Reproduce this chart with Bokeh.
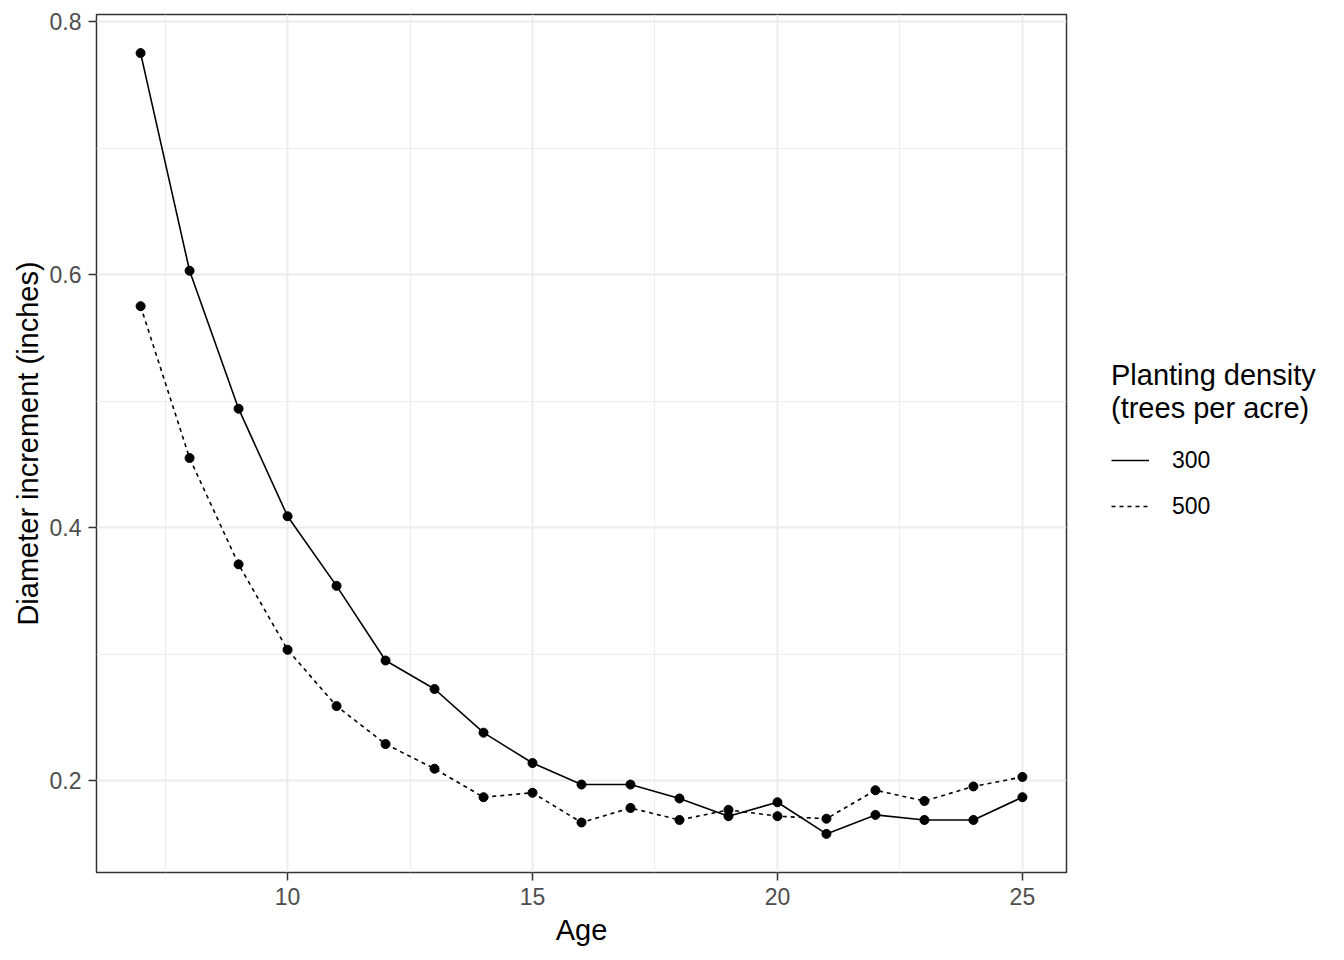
from bokeh.plotting import figure
from bokeh.models import (Range1d, FixedTicker, Legend, LegendItem,
                          ColumnDataSource)
from bokeh.layouts import row
from bokeh.embed import file_html
from bokeh.resources import INLINE

# ---- data ----
age = list(range(7, 26))
inc_300 = [0.775, 0.603, 0.494, 0.409, 0.354, 0.295, 0.2725, 0.238, 0.214,
           0.197, 0.197, 0.186, 0.172, 0.183, 0.158, 0.173, 0.169, 0.169, 0.187]
inc_500 = [0.575, 0.455, 0.371, 0.3035, 0.259, 0.229, 0.2095, 0.187, 0.1905,
           0.167, 0.1785, 0.169, 0.177, 0.172, 0.170, 0.1925, 0.184, 0.1955, 0.203]
density_labels = ["300", "500"]
legend_title = "Planting density\n(trees per acre)"
x_title = "Age"
y_title = "Diameter increment (inches)"
x_major = [10, 15, 20, 25]
x_minor = [7.5, 12.5, 17.5, 22.5]
y_major = [0.2, 0.4, 0.6, 0.8]
y_minor = [0.3, 0.5, 0.7]

FONT = "Liberation Sans"
LINE_W = 1.6
DASH = "4 4"

# ---------------- main panel ----------------
p = figure(width=1068, height=960, output_backend="svg", toolbar_location=None,
           x_range=Range1d(6.1, 25.9), y_range=Range1d(0.1275, 0.8055),
           min_border_left=96, min_border_right=2, min_border_top=14,
           min_border_bottom=88)

p.background_fill_color = "white"
p.border_fill_color = "white"
p.outline_line_color = "#333333"
p.outline_line_width = 1.5

p.xaxis.ticker = FixedTicker(ticks=x_major, minor_ticks=x_minor)
p.yaxis.ticker = FixedTicker(ticks=y_major, minor_ticks=y_minor)

for ax in (p.xaxis[0], p.yaxis[0]):
    ax.axis_line_color = None
    ax.major_tick_in = 0
    ax.major_tick_out = 8
    ax.major_tick_line_color = "#333333"
    ax.major_tick_line_width = 1.5
    ax.minor_tick_line_color = None
    ax.major_label_text_font = FONT
    ax.major_label_text_font_size = "23px"
    ax.major_label_text_color = "#4D4D4D"
    ax.major_label_standoff = 7
    ax.axis_label_text_font = FONT
    ax.axis_label_text_font_size = "29px"
    ax.axis_label_text_font_style = "normal"
    ax.axis_label_text_color = "black"
    ax.axis_label_standoff = 3

p.xaxis.axis_label = x_title
p.yaxis.axis_label = y_title
p.xaxis[0].axis_label_standoff = 6

for g in (p.xgrid[0], p.ygrid[0]):
    g.grid_line_color = "#EBEBEB"
    g.grid_line_width = 1.8
    g.minor_grid_line_color = "#EBEBEB"
    g.minor_grid_line_width = 0.9

src = ColumnDataSource(dict(age=age, inc_300=inc_300, inc_500=inc_500))

p.line("age", "inc_300", source=src, line_color="black", line_width=LINE_W)
p.line("age", "inc_500", source=src, line_color="black", line_width=LINE_W,
       line_dash=DASH)
p.scatter("age", "inc_300", source=src, size=9, color="black")
p.scatter("age", "inc_500", source=src, size=9, color="black")

# ---------------- legend area (a second, axis-less figure) ----------------
# its ranges lie outside the data, so its key lines are only drawn in the legend
q = figure(width=276, height=960, output_backend="svg", toolbar_location=None,
           x_range=Range1d(100, 101), y_range=Range1d(100, 101),
           x_axis_type=None, y_axis_type=None,
           min_border_left=0, min_border_right=0, min_border_top=0,
           min_border_bottom=0)
q.outline_line_color = None
q.background_fill_color = "white"
q.border_fill_color = "white"

k300 = q.line("age", "inc_300", source=src, line_color="black", line_width=LINE_W)
k500 = q.line("age", "inc_500", source=src, line_color="black", line_width=LINE_W,
              line_dash=DASH)

legend = Legend(items=[LegendItem(label=density_labels[0], renderers=[k300]),
                       LegendItem(label=density_labels[1], renderers=[k500])],
                location=(43, 346))
legend.title = legend_title
legend.title_text_font = FONT
legend.title_text_font_size = "29px"
legend.title_text_font_style = "normal"
legend.title_text_color = "black"
legend.title_text_line_height = 1.0
legend.title_standoff = 15
legend.label_text_font = FONT
legend.label_text_font_size = "23px"
legend.label_text_color = "black"
legend.glyph_width = 38
legend.glyph_height = 40
legend.label_height = 40
legend.label_standoff = 23
legend.spacing = 6
legend.padding = 0
legend.margin = 0
legend.border_line_color = None
legend.background_fill_alpha = 0
q.add_layout(legend, "center")

layout = row(p, q)
open("out.html", "w").write(file_html(layout, INLINE))
